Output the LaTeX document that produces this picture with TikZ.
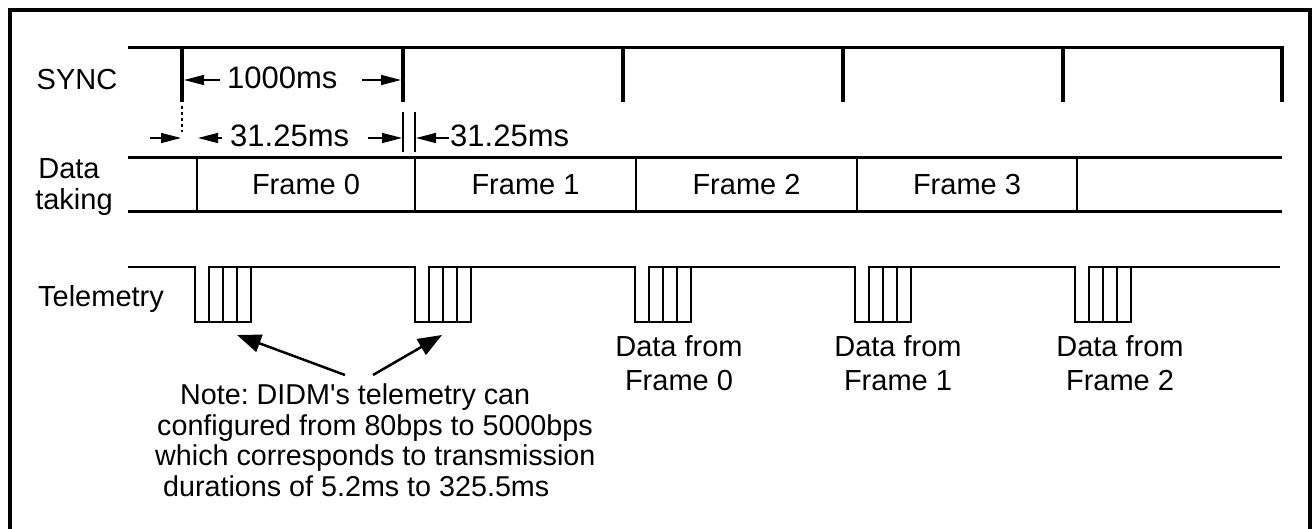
\documentclass[tikz,border=0pt]{standalone}
\usepackage{fontspec}
\setmainfont{Liberation Sans}[Ligatures=TeXOff]
\usetikzlibrary{arrows.meta}
\frenchspacing
\begin{document}
\begin{tikzpicture}[x=1pt,y=-1pt,
  lbl/.style={font=\fontsize{29}{33}\selectfont, inner sep=0pt, anchor=base},
  dimlbl/.style={font=\fontsize{31}{35}\selectfont, inner sep=0pt, anchor=base west},
  notelbl/.style={font=\fontsize{28.7}{33}\selectfont, inner sep=0pt, anchor=base west},
  sig/.style={line width=3pt},
  tick/.style={line width=4.5pt},
  vsep/.style={line width=2.5pt},
  tele/.style={line width=2.5pt, line join=miter},
  hair/.style={line width=1.2pt},
  dimarrow/.style={line width=1.5pt, -{Triangle[length=20pt,width=10pt]}},
  notearrow/.style={line width=2.5pt, -{Triangle[length=24pt,width=18pt]}},
]
\useasboundingbox (0,0) rectangle (1313,529);
\clip (0,0) rectangle (1313,529);
% outer frame
\draw[line width=4pt] (10,560) -- (10,10) -- (1310,10) -- (1310,560);

% ---- SYNC ----
\node[lbl] (sync) at (77,90) {SYNC};
\draw[sig] (128,48) -- (1282,48);
\foreach \x in {182,403,623,843,1063,1282} \draw[tick] (\x,46.5) -- (\x,102);
\node[dimlbl] (t1000) at (227,89) {1000ms};
\coordinate (s0) at (182,80);
\coordinate (s1) at (403,80);
\draw[dimarrow] (220,80) -- ([xshift=2pt]s0);
\draw[dimarrow] (362,80) -- ([xshift=-2pt]s1);

% ---- offsets ----
\draw[hair, dashed] (182,106) -- (182,132);
\draw[hair] (403,112) -- (403,152);
\draw[hair] (415,112) -- (415,152);
\draw[dimarrow] (150,138) -- (181,138);
\draw[dimarrow] (222,138) -- (198,138);
\node[dimlbl] (t3125a) at (230,147) {31.25ms};
\draw[dimarrow] (368,138) -- (402,138);
\draw[dimarrow] (449,138) -- (416,138);
\node[dimlbl] (t3125b) at (450,147) {31.25ms};

% ---- Data taking ----
\node[lbl] (data) at (69,179) {Data};
\node[lbl] (taking) at (74,210) {taking};
\draw[sig] (128,158) -- (1282,158);
\draw[sig] (128,212) -- (1282,212);
\foreach \x in {197,415,636,857,1077} \draw[vsep] (\x,158) -- (\x,212);
\node[lbl] (f0) at (306,195) {Frame 0};
\node[lbl] (f1) at (525.5,195) {Frame 1};
\node[lbl] (f2) at (746.5,195) {Frame 2};
\node[lbl] (f3) at (967,195) {Frame 3};

% ---- Telemetry ----
\node[lbl] (tel) at (101,306) {Telemetry};
\draw[tele] (128,267) -- (195,267) -- (195,322) -- (251,322) -- (251,267)
  -- (415,267) -- (415,322) -- (471,322) -- (471,267)
  -- (635,267) -- (635,322) -- (691,322) -- (691,267)
  -- (855,267) -- (855,322) -- (911,322) -- (911,267)
  -- (1075,267) -- (1075,322) -- (1131,322) -- (1131,267) -- (1280,267);
\foreach \x in {195,415,635,855,1075} {
  \draw[tele] (\x+14,322) -- (\x+14,267) -- (\x+56,267);
  \draw[tele] (\x+28,267) -- (\x+28,322);
  \draw[tele] (\x+42,267) -- (\x+42,322);
}
\node[lbl] (df0) at (679,356) {Data from};
\node[lbl] (df0b) at (679,390) {Frame 0};
\node[lbl] (df1) at (898,356) {Data from};
\node[lbl] (df1b) at (898,390) {Frame 1};
\node[lbl] (df2) at (1120,356) {Data from};
\node[lbl] (df2b) at (1120,390) {Frame 2};

% ---- Note ----
\node[notelbl] (n1) at (180,404) {Note: DIDM's telemetry can};
\node[notelbl] (n2) at (157,435) {configured from 80bps to 5000bps};
\node[notelbl] (n3) at (155,465) {which corresponds to transmission};
\node[notelbl] (n4) at (163,496) {durations of 5.2ms to 325.5ms};
\coordinate (p0) at (237,335);
\coordinate (p1) at (442,335);
\coordinate (q0) at (345,375);
\coordinate (q1) at (373,375);
\draw[notearrow] (q0) -- (p0);
\draw[notearrow] (q1) -- (p1);
\end{tikzpicture}
\end{document}
